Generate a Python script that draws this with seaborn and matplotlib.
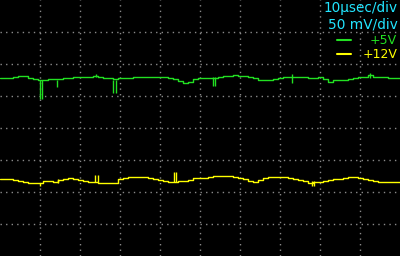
import numpy as np
import pandas as pd
import matplotlib
matplotlib.use("Agg")
import matplotlib.pyplot as plt
import seaborn as sns

# time axis: 0..100 usec, sampled every 1.25 usec
time_us = [i * 1.25 for i in range(81)]

# +5V channel (mV offset on screen)
v5_mv = [78, 78, 78, 80, 81, 81, 78, 77, 75, 75, 77, 77, 77, 78, 78, 80, 80, 80, 80, 81,
         80, 78, 78, 77, 78, 78, 78, 80, 80, 80, 80, 80, 80, 80, 78, 77, 73, 70, 72, 77,
         78, 78, 78, 78, 80, 81, 81, 83, 81, 81, 80, 78, 75, 75, 75, 77, 78, 80, 80, 80,
         80, 80, 78, 78, 80, 77, 72, 75, 75, 75, 77, 78, 80, 80, 83, 80, 80, 80, 78, 78, 78]

# +12V channel
v12_mv = [-80, -80, -80, -81, -83, -84, -86, -86, -86, -83, -83, -84, -81, -80, -78, -80, -81, -83, -84, -84,
          -86, -86, -86, -86, -80, -78, -77, -77, -77, -77, -78, -80, -81, -83, -84, -84, -83, -83, -81, -78,
          -78, -78, -77, -75, -75, -75, -75, -77, -78, -80, -83, -84, -81, -78, -77, -77, -77, -77, -78, -80,
          -81, -83, -86, -84, -84, -83, -81, -80, -80, -78, -77, -77, -78, -80, -81, -83, -84, -84, -84, -84, -84]

# glitches: time (usec), from (mV), to (mV)
g5_t = [10.0, 10.5, 14.25, 24.0, 28.25, 29.0, 53.25, 53.75, 73.0, 92.5]
g5_lo = [75, 75, 75, 80, 75, 75, 80, 80, 70, 78]
g5_hi = [45, 45, 64, 84, 55, 55, 66, 66, 84, 86]

g12_t = [10.0, 14.5, 23.75, 24.5, 43.5, 44.0, 78.0, 78.5]
g12_lo = [-86, -80, -84, -84, -84, -84, -83, -83]
g12_hi = [-91, -86, -73, -73, -69, -69, -91, -91]

labels = ["+5V", "+12V"]
colors = ["#22e022", "#ffff00"]
scale_text = ["10\u00b5sec/div", "50 mV/div"]
cyan = "#22e5ff"

df = pd.DataFrame({
    "t": time_us * 2,
    "v": v5_mv + v12_mv,
    "ch": [labels[0]] * len(time_us) + [labels[1]] * len(time_us),
})

sns.set_style("dark")
fig = plt.figure(figsize=(4.0, 2.56), dpi=100, facecolor="black")
ax = fig.add_axes([0, 0, 1, 1])
ax.set_facecolor("black")

sns.lineplot(data=df, x="t", y="v", hue="ch", palette=colors, ax=ax,
             legend=False, linewidth=1.0, drawstyle="steps-mid")

ax.vlines(g5_t, g5_lo, g5_hi, colors=colors[0], linewidth=1.0)
ax.vlines(g12_t, g12_lo, g12_hi, colors=colors[1], linewidth=1.0)

ax.set_xlim(0, 100)
ax.set_ylim(-200, 200)
ax.set_xticks(np.arange(10, 100, 10))
ax.set_yticks(np.arange(-150, 200, 50))
ax.grid(True, color="#8a8a8a", linestyle=(0, (1, 3)), linewidth=1.0)
ax.tick_params(length=0, labelbottom=False, labelleft=False)
for s in ax.spines.values():
    s.set_visible(False)
ax.set_xlabel("")
ax.set_ylabel("")

fkw = dict(transform=ax.transAxes, ha="right", va="center",
           family="DejaVu Sans")
ax.text(0.995, 1 - 8 / 256, scale_text[0], color=cyan, fontsize=9.8, **fkw)
ax.text(0.995, 1 - 24 / 256, scale_text[1], color=cyan, fontsize=9.8, **fkw)
ax.text(0.993, 1 - 41 / 256, labels[0], color=colors[0], fontsize=9, **fkw)
ax.text(0.993, 1 - 55 / 256, labels[1], color=colors[1], fontsize=9, **fkw)
ax.plot([337 / 400, 351 / 400], [1 - 40 / 256] * 2, color=colors[0], lw=1.5,
        transform=ax.transAxes)
ax.plot([337 / 400, 351 / 400], [1 - 54 / 256] * 2, color=colors[1], lw=1.5,
        transform=ax.transAxes)

fig.savefig("out.png", dpi=100, facecolor="black")
